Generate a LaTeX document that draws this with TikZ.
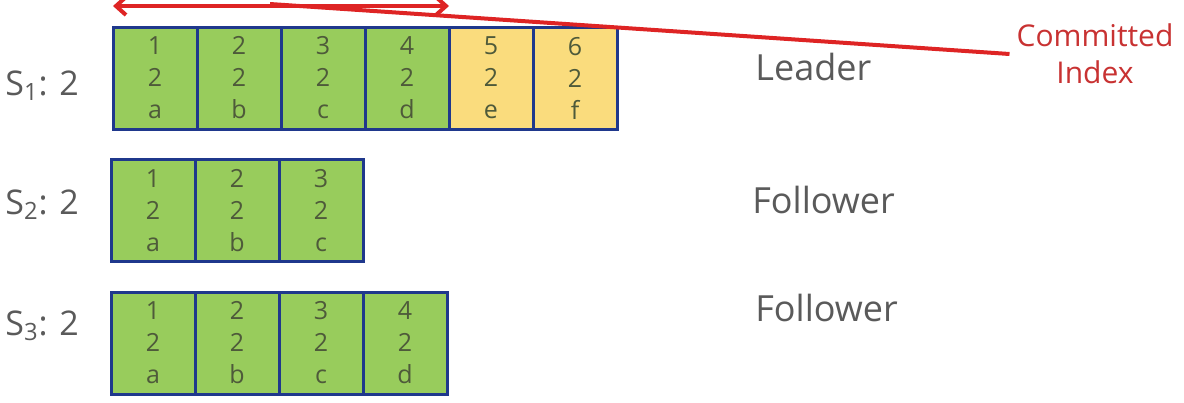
\documentclass[tikz,border=0pt]{standalone}
\usepackage{fontspec}
\setmainfont{Open Sans}
\usetikzlibrary{positioning,arrows.meta}
\definecolor{logborder}{RGB}{31,56,140}
\definecolor{okgreen}{RGB}{152,204,92}
\definecolor{pendyellow}{RGB}{250,220,125}
\definecolor{labgray}{RGB}{90,90,90}
\definecolor{celltxt}{RGB}{78,90,58}
\definecolor{commitred}{RGB}{222,36,36}
\definecolor{committxt}{RGB}{200,50,50}
\tikzset{
  entry/.style={rectangle, draw=logborder, line width=1.5pt, fill=okgreen, minimum width=42pt, minimum height=51pt, inner sep=0pt, outer sep=0pt, align=center, text=celltxt, font=\fontsize{12.5}{16}\selectfont},
  server/.style={text=labgray, font=\fontsize{17}{20}\selectfont, anchor=base west, inner sep=0pt},
  role/.style={text=labgray, font=\fontsize{18}{22}\selectfont, anchor=base west, inner sep=0pt},
  commit/.style={draw=commitred, line width=2pt},
}
\begin{document}
\begin{tikzpicture}[x=0.5pt,y=-0.5pt]
    \useasboundingbox (0,0) rectangle (1184,402);

    % server names
    \node[server] (s1) at (5,95) {S\textsubscript{1}: 2};
    \node[server] (s2) at (5,214) {S\textsubscript{2}: 2};
    \node[server] (s3) at (5,335) {S\textsubscript{3}: 2};

    % logs
    \node[entry] (s1e1) at (155,78) {1\\2\\a};
    \foreach \i/\prev/\lt/\fc in {2/1/b/okgreen,3/2/c/okgreen,4/3/d/okgreen,5/4/e/pendyellow,6/5/f/pendyellow}
      \node[entry, fill=\fc, right=0pt of s1e\prev] (s1e\i) {\i\\2\\\lt};

    \node[entry] (s2e1) at (153,210.5) {1\\2\\a};
    \foreach \i/\prev/\lt in {2/1/b,3/2/c}
      \node[entry, right=0pt of s2e\prev] (s2e\i) {\i\\2\\\lt};

    \node[entry] (s3e1) at (153,343) {1\\2\\a};
    \foreach \i/\prev/\lt in {2/1/b,3/2/c,4/3/d}
      \node[entry, right=0pt of s3e\prev] (s3e\i) {\i\\2\\\lt};

    % roles
    \node[role] (lead) at (755,80) {Leader};
    \node[role] (foll2) at (752,213) {Follower};
    \node[role] (foll3) at (755,321) {Follower};

    \node[text=committxt, align=center, font=\fontsize{15}{18.5}\selectfont] (cidx) at (1095,54) {Committed\\Index};

    % committed range
    \draw[commit, {Straight Barb[length=5pt,width=9pt]}-{Straight Barb[length=5pt,width=9pt]}]
      ([yshift=10.5pt]s1e1.north west) -- ([yshift=10.5pt]s1e4.north east);
    \coordinate (cpin) at (270,4);
    \draw[commit] (cpin) -- (cidx.west);
\end{tikzpicture}
\end{document}
